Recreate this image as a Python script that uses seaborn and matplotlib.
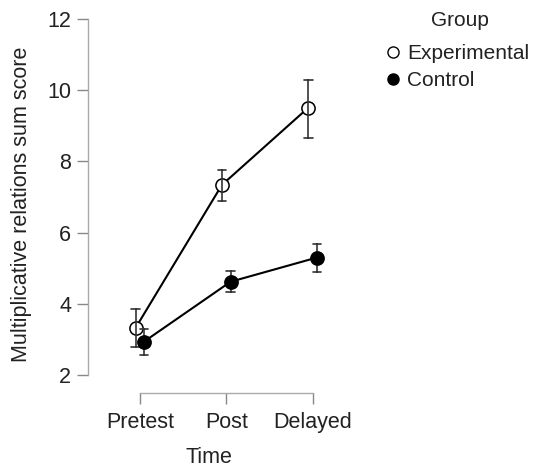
import matplotlib
matplotlib.use("Agg")
import matplotlib.pyplot as plt
import pandas as pd
import seaborn as sns
from matplotlib.lines import Line2D

# values: mean with lower / upper end of the error bar
times = ["Pretest", "Post", "Delayed"]
groups = ["Experimental", "Control"]
exp_mean = [3.32, 7.34, 9.51]
exp_low = [2.80, 6.90, 8.67]
exp_high = [3.85, 7.76, 10.30]
ctl_mean = [2.94, 4.62, 5.30]
ctl_low = [2.56, 4.34, 4.90]
ctl_high = [3.28, 4.91, 5.67]

# long table: three rows per cell, median = mean, min/max = bar ends
rows = []
for g, lo, mid, hi in [("Experimental", exp_low, exp_mean, exp_high),
                       ("Control", ctl_low, ctl_mean, ctl_high)]:
    for i, t in enumerate(times):
        for v in (lo[i], mid[i], hi[i]):
            rows.append({"Time": t, "Group": g, "score": v})
df = pd.DataFrame(rows)

sns.set_style("white")
plt.rcParams["font.family"] = ["Liberation Sans", "DejaVu Sans"]

fs = 15.5
fig = plt.figure(figsize=(5.34, 4.69), dpi=100)
ax = fig.add_axes([0.1648, 0.162, 0.453, 0.805])

sns.pointplot(data=df, x="Time", y="score", hue="Group", order=times,
              hue_order=groups, estimator="median", errorbar=("pi", 100),
              palette=["black", "black"], markers=["o", "o"],
              dodge=0.1, capsize=0.1, err_kws={"linewidth": 1.2, "color": "#333333"},
              linewidth=1.5, markersize=9.5, ax=ax, legend=False)

# open marker for the experimental group
for ln in ax.lines:
    if ln.get_marker() == "o" and len(ln.get_xdata()) == 3:
        xs = list(ln.get_xdata())
        if xs[0] < 0:
            ln.set_markerfacecolor("white")
            ln.set_zorder(2)
        else:
            ln.set_zorder(3)

ax.set_xlim(-0.6, 2.2)
ax.set_ylim(1.494, 12.1)
ax.set_yticks([2, 4, 6, 8, 10, 12])
ax.spines["top"].set_visible(False)
ax.spines["right"].set_visible(False)
ax.spines["left"].set_bounds(2, 12)
ax.spines["bottom"].set_bounds(0, 2)
for s in ("left", "bottom"):
    ax.spines[s].set_color("#aaaaaa")
    ax.spines[s].set_linewidth(1.0)
ax.tick_params(axis="both", length=8, width=1.0, color="#888888",
               labelsize=fs, labelcolor="#222222", pad=4, direction="out")
ax.tick_params(axis="x", pad=6)
ax.tick_params(left=True, bottom=True)
ax.set_xlabel("Time", fontsize=fs, color="#222222", labelpad=10)
ax.set_ylabel("Multiplicative relations sum score", fontsize=fs,
              color="#222222", labelpad=11)

# legend: title as separate text so the gap matches
fig.text(460 / 534, 1 - 20 / 469, "Group", ha="center", va="center",
         fontsize=15, color="#222222")
handles = [Line2D([], [], marker="o", color="black", linestyle="none",
                  markerfacecolor="white", markersize=8),
           Line2D([], [], marker="o", color="black", linestyle="none",
                  markerfacecolor="black", markersize=8)]
leg = fig.legend(handles, groups, loc="upper left",
                 bbox_to_anchor=(385 / 534, 1 - 44 / 469), frameon=False,
                 fontsize=15, handlelength=0.8, handletextpad=0.25,
                 labelspacing=0.38, borderaxespad=0, borderpad=0)
for t in leg.get_texts():
    t.set_color("#222222")

fig.savefig("out.png", dpi=100)
